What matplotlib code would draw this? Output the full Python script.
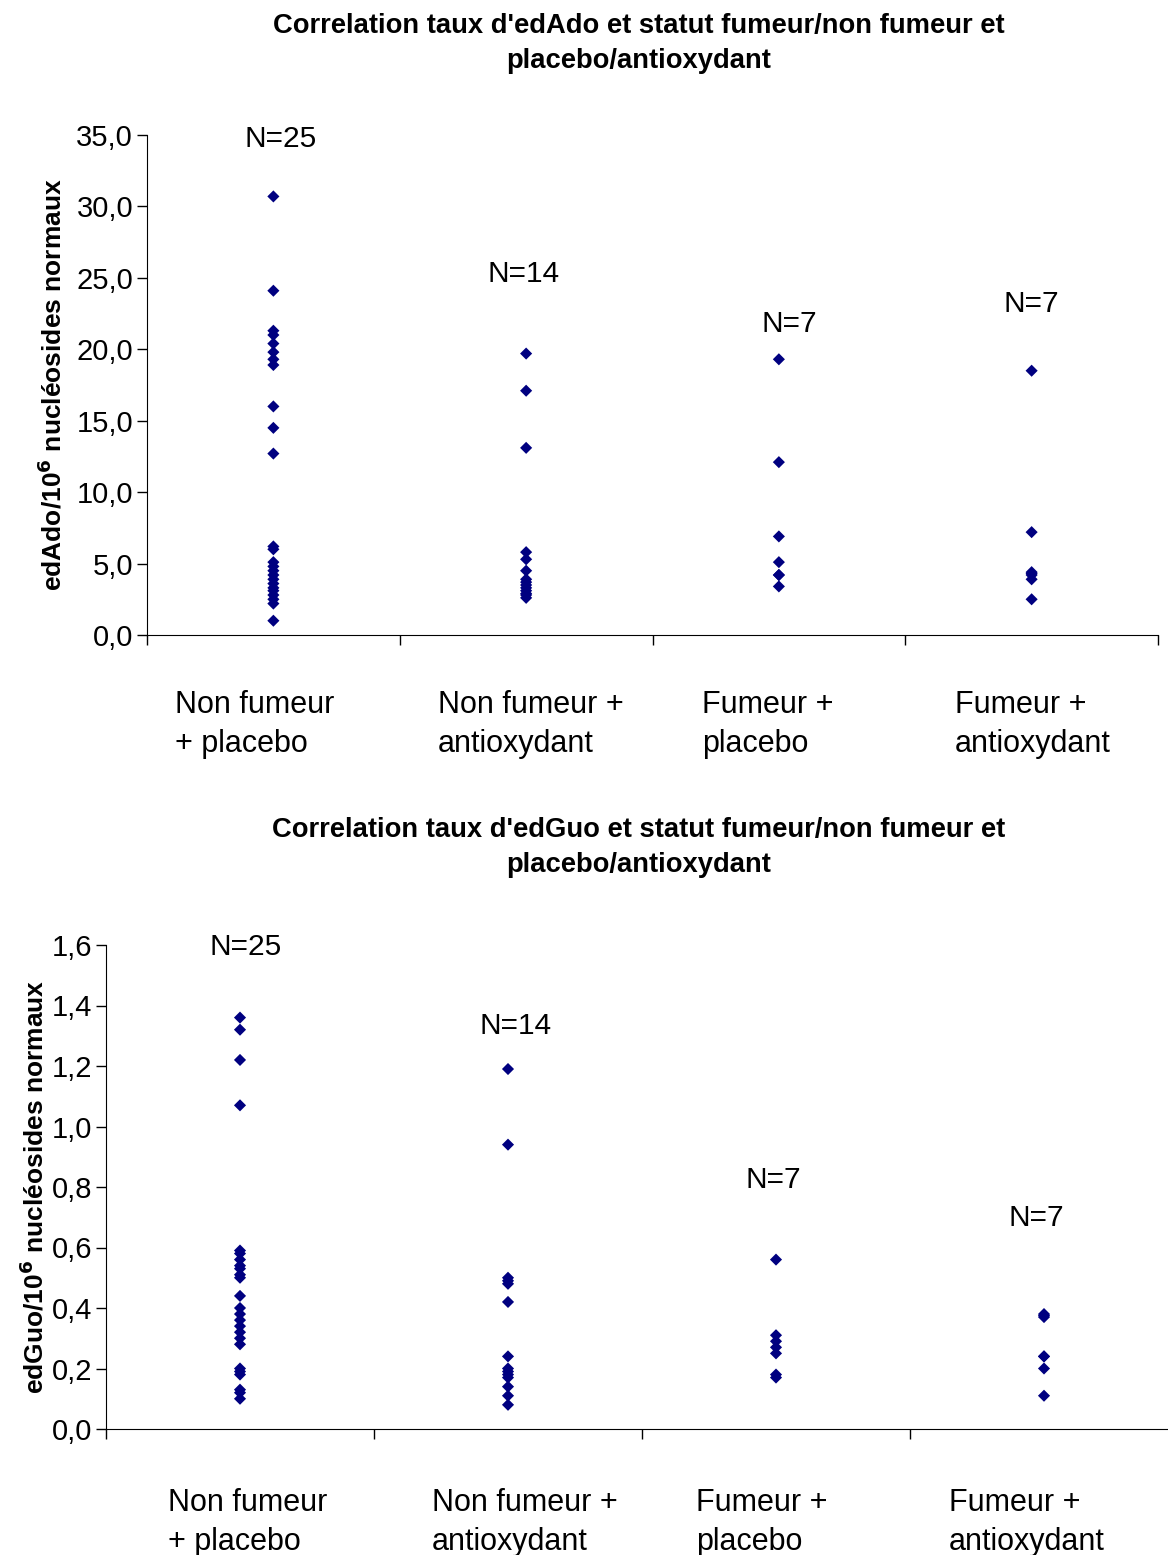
import matplotlib
matplotlib.use("Agg")
import matplotlib.pyplot as plt
from matplotlib.ticker import FuncFormatter

plt.rcParams['font.family'] = ['Liberation Sans', 'DejaVu Sans']

# Categories
categories = ["Non fumeur\n+ placebo", "Non fumeur +\nantioxydant", "Fumeur +\nplacebo", "Fumeur +\nantioxydant"]
n_labels = ["N=25", "N=14", "N=7", "N=7"]

# edAdo per 10^6 normal nucleosides
edado_nf_placebo = [30.7, 24.1, 21.3, 21.0, 20.4, 19.8, 19.3, 18.9, 16.0, 14.5, 12.7,
                    6.2, 6.0, 5.1, 4.8, 4.5, 4.2, 3.9, 3.6, 3.3, 3.1, 2.8, 2.5, 2.2, 1.0]
edado_nf_antiox = [19.7, 17.1, 13.1, 5.8, 5.3, 4.5, 3.9, 3.7, 3.5, 3.3, 3.1, 2.9, 2.8, 2.6]
edado_f_placebo = [19.3, 12.1, 6.9, 5.1, 4.2, 4.2, 3.4]
edado_f_antiox = [18.5, 7.2, 4.4, 4.3, 4.2, 3.9, 2.5]

# edGuo per 10^6 normal nucleosides
edguo_nf_placebo = [1.36, 1.32, 1.22, 1.07, 0.59, 0.58, 0.56, 0.54, 0.53, 0.51, 0.50,
                    0.44, 0.40, 0.38, 0.36, 0.34, 0.32, 0.30, 0.28, 0.20, 0.19, 0.18,
                    0.13, 0.12, 0.10]
edguo_nf_antiox = [1.19, 0.94, 0.50, 0.49, 0.48, 0.42, 0.24, 0.20, 0.19, 0.18, 0.17, 0.14, 0.11, 0.08]
edguo_f_placebo = [0.56, 0.31, 0.29, 0.27, 0.25, 0.18, 0.17]
edguo_f_antiox = [0.38, 0.375, 0.37, 0.24, 0.24, 0.20, 0.11]

edado = [edado_nf_placebo, edado_nf_antiox, edado_f_placebo, edado_f_antiox]
edguo = [edguo_nf_placebo, edguo_nf_antiox, edguo_f_placebo, edguo_f_antiox]

# N label heights (data units)
edado_n_y = [34.7, 25.3, 21.8, 23.2]
edguo_n_y = [1.593, 1.332, 0.823, 0.698]

fig = plt.figure(figsize=(11.68, 15.55), dpi=100)
ax1 = fig.add_axes([147/1168, 1-635/1555, 1011/1168, 500/1555])
ax2 = fig.add_axes([106/1168, 1-1429/1555, 1072/1168, 484/1555])


def draw(ax, groups, ylim, step, ylabel, title, n_y, title_y, lab_off, n_off, lab_y, ypad):
    for i, vals in enumerate(groups):
        ax.scatter([i + 1] * len(vals), vals, marker='D', s=38, color='#000080',
                   edgecolors='none', zorder=3, clip_on=False)
        ax.text(i + 1 + n_off[i], n_y[i], n_labels[i], ha='center', va='center',
                fontsize=21.5)
        ax.text(i + 1 + lab_off[i], lab_y, categories[i], ha='left', va='top',
                fontsize=22, transform=ax.get_xaxis_transform(), linespacing=1.38)
    ax.set_xlim(0.5, 4.5)
    ax.set_ylim(*ylim)
    ticks = [ylim[0] + k * step for k in range(int(round((ylim[1] - ylim[0]) / step)) + 1)]
    ax.set_yticks(ticks)
    ax.yaxis.set_major_formatter(FuncFormatter(lambda v, p: "{:.1f}".format(v).replace('.', ',')))
    ax.set_xticks([0.5, 1.5, 2.5, 3.5, 4.5])
    ax.set_xticklabels([])
    ax.tick_params(axis='x', direction='out', length=7, width=1)
    ax.tick_params(axis='y', direction='out', length=7, width=1, labelsize=21, pad=3)
    for s in ['top', 'right']:
        ax.spines[s].set_visible(False)
    ax.set_ylabel(ylabel, fontsize=19, fontweight='bold', labelpad=ypad)
    fig.text(0.547, title_y, title, ha='center', va='center', fontsize=19.7,
             fontweight='bold', linespacing=1.45)


draw(ax1, edado, (0, 35), 5, r"edAdo/10$^\mathbf{6}$ nucléosides normaux",
     "Correlation taux d'edAdo et statut fumeur/non fumeur et\nplacebo/antioxydant",
     edado_n_y, 1 - 44/1555,
     [-0.39, -0.35, -0.305, -0.305], [0.03, -0.01, 0.04, 0.0], -0.11, 7)
draw(ax2, edguo, (0, 1.6), 0.2, r"edGuo/10$^\mathbf{6}$ nucléosides normaux",
     "Correlation taux d'edGuo et statut fumeur/non fumeur et\nplacebo/antioxydant",
     edguo_n_y, 1 - 848/1555,
     [-0.27, -0.285, -0.30, -0.355], [0.02, 0.03, -0.01, -0.03], -0.122, 2)

fig.savefig("out.png", dpi=100)
